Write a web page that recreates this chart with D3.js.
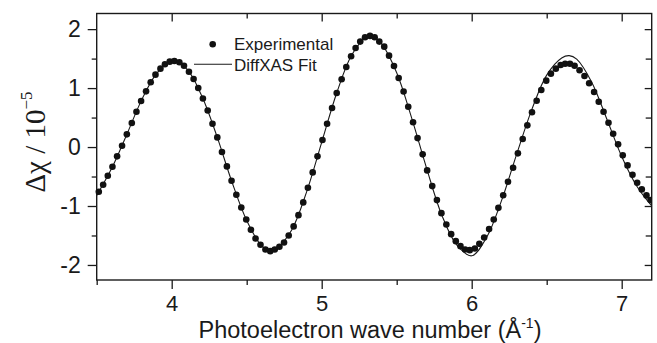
<!DOCTYPE html>
<html>
<head>
<meta charset="utf-8">
<script src="https://cdn.jsdelivr.net/npm/d3@7"></script>
<style>
  html, body { margin: 0; padding: 0; background: #fff; }
  svg { display: block; }
  .tick text { font-family: "Liberation Sans", Arial, sans-serif; }
</style>
</head>
<body>
<svg width="657" height="343"></svg>
<script>
// experimental points: k (1/Angstrom) and delta chi (x 1e-5)
const expK = [
  3.514, 3.543, 3.574, 3.605, 3.636, 3.669, 3.701, 3.734, 3.765, 3.796,
  3.829, 3.860, 3.892, 3.925, 3.955, 3.987, 4.018, 4.051, 4.082, 4.115,
  4.146, 4.177, 4.208, 4.240, 4.272, 4.304, 4.335, 4.368, 4.399, 4.431,
  4.464, 4.497, 4.528, 4.559, 4.592, 4.625, 4.657, 4.687, 4.718, 4.749,
  4.780, 4.813, 4.845, 4.877, 4.908, 4.940, 4.972, 5.005, 5.036, 5.069,
  5.100, 5.133, 5.164, 5.196, 5.226, 5.257, 5.289, 5.322, 5.353, 5.384,
  5.417, 5.449, 5.482, 5.513, 5.546, 5.577, 5.609, 5.639, 5.673, 5.703,
  5.737, 5.768, 5.798, 5.831, 5.863, 5.894, 5.925, 5.956, 5.987, 6.021,
  6.051, 6.083, 6.116, 6.147, 6.178, 6.210, 6.242, 6.276, 6.308, 6.340,
  6.371, 6.402, 6.433, 6.464, 6.497, 6.528, 6.561, 6.593, 6.623, 6.655,
  6.686, 6.719, 6.752, 6.783, 6.816, 6.847, 6.879, 6.912, 6.943, 6.976,
  7.007, 7.039, 7.072, 7.103, 7.134, 7.165, 7.192
];
const expChi = [
  -0.759, -0.640, -0.487, -0.334, -0.158, 0.022, 0.215, 0.407, 0.599, 0.781,
  0.945, 1.098, 1.228, 1.330, 1.404, 1.448, 1.460, 1.438, 1.380, 1.278,
  1.155, 1.002, 0.823, 0.620, 0.396, 0.164, -0.085, -0.328, -0.572, -0.810,
  -1.025, -1.228, -1.403, -1.550, -1.658, -1.737, -1.766, -1.737, -1.692, -1.618,
  -1.499, -1.346, -1.155, -0.939, -0.690, -0.430, -0.158, 0.120, 0.396, 0.662,
  0.917, 1.149, 1.358, 1.540, 1.681, 1.788, 1.862, 1.885, 1.862, 1.788,
  1.703, 1.550, 1.375, 1.171, 0.942, 0.684, 0.420, 0.152, -0.124, -0.396,
  -0.662, -0.900, -1.121, -1.313, -1.477, -1.596, -1.681, -1.737, -1.749, -1.720,
  -1.642, -1.533, -1.392, -1.228, -1.031, -0.818, -0.589, -0.351, -0.107, 0.136,
  0.368, 0.589, 0.786, 0.968, 1.126, 1.245, 1.330, 1.392, 1.414, 1.414,
  1.380, 1.302, 1.205, 1.081, 0.934, 0.769, 0.599, 0.413, 0.226, 0.046,
  -0.141, -0.311, -0.470, -0.606, -0.718, -0.820, -0.900
];

// DiffXAS fit curve
const fitK = [
  3.50, 3.60, 3.70, 3.80, 3.90, 4.00, 4.10, 4.20, 4.30, 4.40,
  4.50, 4.60, 4.66, 4.70, 4.80, 4.90, 5.00, 5.10, 5.20, 5.30,
  5.33, 5.40, 5.50, 5.60, 5.70, 5.80, 5.90, 6.00, 6.10, 6.20,
  6.30, 6.40, 6.50, 6.60, 6.65, 6.70, 6.80, 6.90, 7.00, 7.10, 7.20
];
const fitChi = [
  -0.82, -0.36, 0.21, 0.80, 1.25, 1.455, 1.325, 0.87, 0.193, -0.58,
  -1.245, -1.677, -1.77, -1.72, -1.406, -0.755, 0.08, 0.917, 1.56, 1.875,
  1.90, 1.75, 1.26, 0.49, -0.365, -1.15, -1.66, -1.845, -1.53, -0.90,
  -0.12, 0.63, 1.22, 1.51, 1.55, 1.49, 1.10, 0.48, -0.16, -0.66, -1.00
];

const xMajor = [4, 5, 6, 7];
const xMinor = [3.5, 4.5, 5.5, 6.5];
const yMajor = [-2, -1, 0, 1, 2];
const yMinor = [-1.5, -0.5, 0.5, 1.5];

const width = 657, height = 343;
const margin = {top: 13.5, right: 5.3, bottom: 63, left: 96.7};
const iw = width - margin.left - margin.right;
const ih = height - margin.top - margin.bottom;

const svg = d3.select("svg");
const g = svg.append("g").attr("transform", `translate(${margin.left},${margin.top})`);

const x = d3.scaleLinear().domain([3.5, 7.2]).range([0, iw]);
const y = d3.scaleLinear().domain([-2.255, 2.265]).range([ih, 0]);

const ink = "#1a1a1a";

// axes: outward on bottom / left, inward mirrors on top / right
const axisStyle = sel => {
  sel.select(".domain").remove();
  sel.selectAll(".tick line").attr("stroke", ink).attr("stroke-width", 1.3);
};

g.append("g").attr("transform", `translate(0,${ih})`)
  .call(d3.axisBottom(x).tickValues(xMajor).tickSize(9).tickPadding(6).tickFormat(d => String(d)))
  .call(axisStyle)
  .call(s => s.selectAll("text").attr("font-size", 22).attr("fill", ink));
g.append("g").attr("transform", `translate(0,${ih})`)
  .call(d3.axisBottom(x).tickValues(xMinor).tickSize(5).tickFormat(""))
  .call(axisStyle);

g.append("g")
  .call(d3.axisLeft(y).tickValues(yMajor).tickSize(9).tickPadding(7).tickFormat(d => String(d)))
  .call(axisStyle)
  .call(s => s.selectAll("text").attr("font-size", 23).attr("fill", ink));
g.append("g")
  .call(d3.axisLeft(y).tickValues(yMinor).tickSize(5).tickFormat(""))
  .call(axisStyle);

g.append("g")
  .call(d3.axisTop(x).tickValues(xMajor).tickSize(-8).tickFormat(""))
  .call(axisStyle);
g.append("g")
  .call(d3.axisTop(x).tickValues(xMinor.filter(d => d > 3.5)).tickSize(-5).tickFormat(""))
  .call(axisStyle);

g.append("g").attr("transform", `translate(${iw},0)`)
  .call(d3.axisRight(y).tickValues(yMajor).tickSize(-7).tickFormat(""))
  .call(axisStyle);
g.append("g").attr("transform", `translate(${iw},0)`)
  .call(d3.axisRight(y).tickValues(yMinor).tickSize(-6).tickFormat(""))
  .call(axisStyle);

// frame
g.append("rect")
  .attr("width", iw).attr("height", ih)
  .attr("fill", "none").attr("stroke", ink).attr("stroke-width", 1.4);

// clip for the data
g.append("clipPath").attr("id", "clip")
  .append("rect").attr("x", -4).attr("y", 0).attr("width", iw + 4).attr("height", ih);

const plot = g.append("g").attr("clip-path", "url(#clip)");

const fit = fitK.map((k, i) => ({k, v: fitChi[i]}));
const pts = expK.map((k, i) => ({k, v: expChi[i]}));

plot.append("path")
  .datum(fit)
  .attr("fill", "none")
  .attr("stroke", ink)
  .attr("stroke-width", 1.1)
  .attr("d", d3.line().x(d => x(d.k)).y(d => y(d.v)).curve(d3.curveCatmullRom.alpha(0.5)));

plot.selectAll("circle")
  .data(pts)
  .join("circle")
  .attr("cx", d => x(d.k))
  .attr("cy", d => y(d.v))
  .attr("r", 3.3)
  .attr("fill", "#111");

// legend
const leg = svg.append("g").attr("font-family", "'Liberation Sans', Arial, sans-serif").attr("font-size", 17).attr("fill", ink);
leg.append("circle").attr("cx", 212.7).attr("cy", 44.3).attr("r", 3.3).attr("fill", "#111");
leg.append("text").attr("x", 234).attr("y", 50).text("Experimental");
leg.append("line").attr("x1", 194).attr("x2", 232).attr("y1", 64.3).attr("y2", 64.3)
  .attr("stroke", ink).attr("stroke-width", 1.1);
leg.append("text").attr("x", 234).attr("y", 71).text("DiffXAS Fit");

// axis titles
const xt = svg.append("text")
  .attr("x", 370).attr("y", 338)
  .attr("text-anchor", "middle")
  .attr("font-family", "'Liberation Sans', Arial, sans-serif")
  .attr("font-size", 23.5)
  .attr("fill", ink);
xt.append("tspan").text("Photoelectron wave number (Å");
xt.append("tspan").attr("font-size", 14).attr("dy", -10).text("-1");
xt.append("tspan").attr("dy", 10).text(")");

const yt = svg.append("text")
  .attr("transform", `translate(45,142) rotate(-90)`)
  .attr("text-anchor", "middle")
  .attr("font-family", "'Liberation Serif', 'Times New Roman', serif")
  .attr("font-size", 29)
  .attr("fill", ink);
yt.append("tspan").text("Δχ / 10");
yt.append("tspan").attr("font-size", 17).attr("dy", -13).text("−5");
</script>
</body>
</html>
